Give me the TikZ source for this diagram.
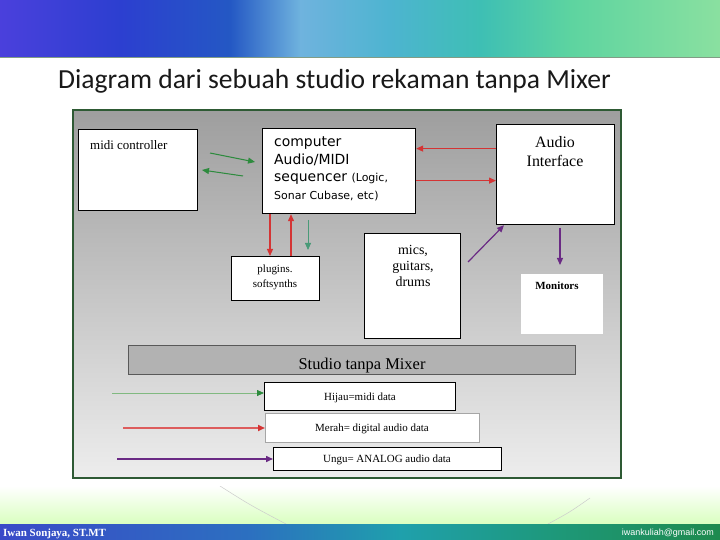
\documentclass[tikz,border=0pt]{standalone}
\usepackage{fontspec}
\setmainfont{Liberation Serif}
\newfontfamily\titlefont{Carlito}
\newfontfamily\seqfont{DejaVu Sans}
\newfontfamily\mailfont{Liberation Sans}
\usetikzlibrary{arrows.meta}

\definecolor{hdA}{HTML}{4A40DC}
\definecolor{hdB}{HTML}{2C3FD0}
\definecolor{hdC}{HTML}{2458C4}
\definecolor{hdD}{HTML}{6FB3DE}
\definecolor{hdE}{HTML}{4DB4D0}
\definecolor{hdF}{HTML}{3EBFB4}
\definecolor{hdG}{HTML}{5DD4A0}
\definecolor{hdH}{HTML}{8AE0A0}
\definecolor{ftA}{HTML}{3A4AC8}
\definecolor{ftB}{HTML}{2C70C0}
\definecolor{ftC}{HTML}{1FA0AC}
\definecolor{ftD}{HTML}{1E9878}
\definecolor{ftE}{HTML}{1E8A4E}
\definecolor{panelline}{HTML}{2E5A34}
\definecolor{midigreen}{HTML}{2E8B3E}
\definecolor{tealgreen}{HTML}{4A9A78}
\definecolor{audiored}{HTML}{D43434}
\definecolor{analogpurple}{HTML}{6A2A84}

\tikzset{
  box/.style={rectangle, draw=black, line width=1.2bp, fill=white, anchor=north west, inner sep=0pt},
  tip/.style={-{Triangle[length=7bp,width=6bp]}},
  midiarr/.style={tip, draw=midigreen, fill=midigreen, line width=1bp},
  audioarr/.style={tip, draw=audiored, fill=audiored, line width=1.2bp},
  analogarr/.style={tip, draw=analogpurple, fill=analogpurple, line width=1.2bp},
  txt/.style={inner sep=0pt, align=center}
}

\begin{document}
\begin{tikzpicture}[x=1bp, y=-1bp]
\useasboundingbox (0,0) rectangle (720,540);
\fill[white] (0,0) rectangle (720,540);
\shade[left color=hdA, right color=hdB] (0,0) rectangle (120.5,57);
\shade[left color=hdB, right color=hdC] (120,0) rectangle (230.5,57);
\shade[left color=hdC, right color=hdD] (230,0) rectangle (300.5,57);
\shade[left color=hdD, right color=hdE] (300,0) rectangle (390.5,57);
\shade[left color=hdE, right color=hdF] (390,0) rectangle (480.5,57);
\shade[left color=hdF, right color=hdG] (480,0) rectangle (570.5,57);
\shade[left color=hdG, right color=hdH] (570,0) rectangle (720,57);
\draw[line width=1.5bp, draw=panelline!60!white] (0,57.5) -- (720,57.5);
\node[anchor=base west, inner sep=0pt, font=\titlefont\fontsize{27.7}{32}\selectfont, text=black!90] (title) at (58,89) {Diagram dari sebuah studio rekaman tanpa Mixer};

\shade[top color=white, bottom color=green!45!lime!25!white] (0,486) rectangle (720,524);
\draw[black!20, line width=0.5bp] (220,486) .. controls (250,505) .. (286,524);
\draw[black!20, line width=0.5bp] (590,498) .. controls (570,512) .. (548,524);
\shade[left color=ftA, right color=ftB] (0,524) rectangle (250.5,540);
\shade[left color=ftB, right color=ftC] (250,524) rectangle (400.5,540);
\shade[left color=ftC, right color=ftD] (400,524) rectangle (560.5,540);
\shade[left color=ftD, right color=ftE] (560,524) rectangle (720,540);
\node[anchor=base west, inner sep=0pt, text=white, font=\bfseries\fontsize{11}{13}\selectfont] (author) at (3,536) {Iwan Sonjaya, ST.MT};
\node[anchor=base east, inner sep=0pt, text=white, font=\mailfont\fontsize{9}{11}\selectfont] (mail) at (714,535) {iwankuliah@gmail.com};

\fill[white] (66,100) rectangle (628,486);
\shade[top color=black!38, bottom color=black!7, draw=panelline, line width=2bp] (73,110) rectangle (621,478);

\node[box, minimum width=119bp, minimum height=81bp] (midi) at (78,129) {};
\node[box, minimum width=153bp, minimum height=85bp] (comp) at (262,128) {};
\node[box, minimum width=118bp, minimum height=100bp] (ai) at (496,124) {};
\node[box, minimum width=88bp, minimum height=44bp] (plug) at (231,256) {};
\node[box, minimum width=96bp, minimum height=105bp] (mics) at (364,233) {};
\node[box, draw=none, minimum width=82bp, minimum height=60bp] (mon) at (520,273) {};
\node[box, draw=black!65, fill=black!30, line width=1bp, minimum width=447bp, minimum height=29bp] (bar) at (128,345) {};
\node[box, minimum width=191bp, minimum height=28bp] (hijau) at (264,382) {};
\node[box, draw=black!35, minimum width=214bp, minimum height=29bp] (merah) at (265,413) {};
\node[box, minimum width=228bp, minimum height=23bp] (ungu) at (273,447) {};

\node[anchor=base west, inner sep=0pt, font=\fontsize{13}{15}\selectfont] (midit) at (90,150) {midi controller};
\node[anchor=north west, txt, align=left, font=\seqfont\fontsize{14}{17.5}\selectfont] (compt) at (274,137)
  {computer\\Audio/MIDI\\sequencer {\fontsize{11}{13}\selectfont(Logic,}\\{\fontsize{11}{13}\selectfont Sonar Cubase, etc)}};
\node[anchor=north, txt, font=\fontsize{16}{19}\selectfont] (ait) at (555,136) {Audio\\Interface};
\node[anchor=north, txt, font=\fontsize{11}{15}\selectfont] (plugt) at (275,265) {plugins.\\softsynths};
\node[anchor=north, txt, font=\fontsize{14}{16}\selectfont] (micst) at (413,245) {mics,\\guitars,\\drums};
\node[anchor=base, inner sep=0pt, font=\bfseries\fontsize{11}{13}\selectfont] (mont) at (557,289) {Monitors};
\node[anchor=base, inner sep=0pt, font=\fontsize{16.5}{19}\selectfont] (bart) at (362,369) {Studio tanpa Mixer};
\node[anchor=base, inner sep=0pt, font=\fontsize{11}{13}\selectfont] (hijaut) at (360,400) {Hijau=midi data};
\node[anchor=base, inner sep=0pt, font=\fontsize{11}{13}\selectfont] (meraht) at (372,431) {Merah= digital audio data};
\node[anchor=base, inner sep=0pt, font=\fontsize{11}{13}\selectfont] (ungut) at (387,462) {Ungu= ANALOG audio data};

\coordinate (m1) at (210,153);
\coordinate (m2) at (255,162);
\coordinate (m3) at (243,176);
\coordinate (m4) at (202,170);
\coordinate (t1) at (308,220);
\coordinate (t2) at (308,250);
\coordinate (p1) at (468,262);
\coordinate (v1) at (560,228);
\coordinate (v2) at (560,265);
\coordinate (l1) at (112,393);
\coordinate (l2) at (123,428);
\coordinate (l3) at (117,459);

\draw[midiarr] (m1) -- (m2);
\draw[midiarr] (m3) -- (m4);
\draw[audioarr] ([yshift=26bp]ai.west) -- ([yshift=26bp]ai.west -| comp.east);
\draw[audioarr] ([yshift=-6bp]ai.west -| comp.east) -- ([yshift=-6bp]ai.west);
\draw[audioarr] ([xshift=8bp]comp.south west) -- ([xshift=8bp]comp.south west |- plug.north);
\draw[audioarr] ([xshift=29bp]comp.south west |- plug.north) -- ([xshift=29bp]comp.south west);
\draw[tip, draw=tealgreen, fill=tealgreen, line width=0.8bp] (t1) -- (t2);
\draw[analogarr] (p1) -- ([xshift=8bp]ai.south west);
\draw[analogarr] (v1) -- (v2);
\draw[-{Triangle[length=7bp,width=6bp,color=midigreen]}, draw=green!45!black!50!white, line width=0.8bp] (l1) -- (l1 -| hijau.west);
\draw[-{Triangle[length=7bp,width=6bp,color=audiored]}, draw=audiored!80!white, line width=2bp] (l2) -- (l2 -| merah.west);
\draw[analogarr, line width=1.5bp] (l3) -- (l3 -| ungu.west);
\end{tikzpicture}
\end{document}
